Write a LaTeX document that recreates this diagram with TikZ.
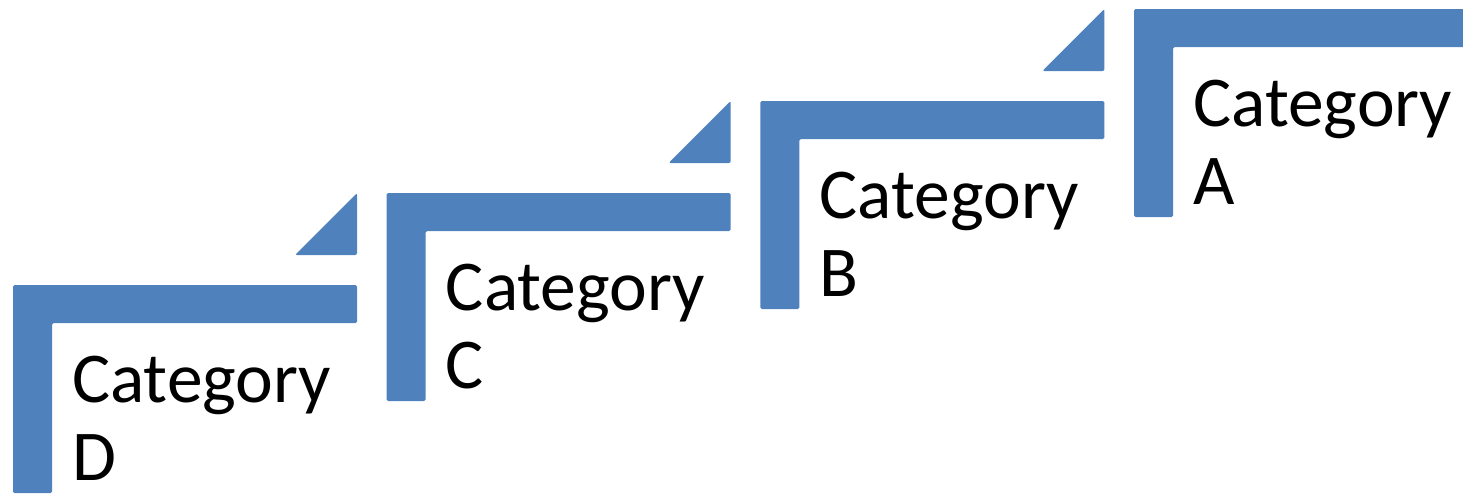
\documentclass[tikz,border=0pt]{standalone}
\usepackage{fontspec}
\setmainfont{Carlito}
\definecolor{stepblue}{HTML}{4F81BD}
\tikzset{
  stairbar/.style={fill=stepblue, rounded corners=1.5pt},
  stairtri/.style={fill=stepblue, rounded corners=2pt},
  steplabel/.style={font=\fontsize{71.5}{78}\selectfont, align=left, inner sep=0pt, text=black}
}
\begin{document}
\begin{tikzpicture}[x=1pt, y=-1pt]
  \clip (0,0) rectangle (1463,493);
  \fill[white] (0,0) rectangle (1463,493);
  \foreach \x/\y/\l/\n in {13/285/D/catD, 386.7/193/C/catC, 760.4/101/B/catB, 1134.1/9/A/catA}{
    \fill[stairbar] (\x,\y) -- ++(344,0) -- ++(0,38) -- ++(-305,0) -- ++(0,170) -- ++(-39,0) -- cycle;
    \fill[stairtri] (\x+344,\y-92) -- (\x+344,\y-30) -- (\x+282,\y-30) -- cycle;
    \node[steplabel, anchor=north west] (\n) at (\x+59,\y+71) {Category\\\l};
  }
\end{tikzpicture}
\end{document}
